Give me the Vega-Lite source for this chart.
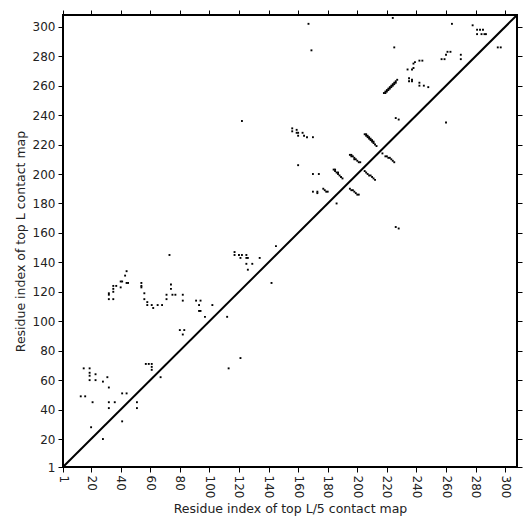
{
  "$schema": "https://vega.github.io/schema/vega-lite/v6.json",
  "width": 454,
  "height": 452,
  "autosize": {"type": "none"},
  "padding": {"left": 63, "top": 15, "right": 14, "bottom": 64},
  "config": {
    "view": {"stroke": "black", "strokeWidth": 2},
    "axis": {
      "domain": false,
      "grid": false,
      "tickColor": "black",
      "tickSize": 5,
      "tickWidth": 1,
      "labelFont": "DejaVu Sans",
      "labelFontSize": 12,
      "labelColor": "#222222",
      "titleFont": "DejaVu Sans",
      "titleFontSize": 12.5,
      "titleFontWeight": "normal",
      "titleColor": "#222222",
      "labelPadding": 3
    }
  },
  "datasets": {
    "diag": [{"r": 1}, {"r": 308}],
    "contacts": [
      {"i": 15, "j": 68}, {"i": 19, "j": 68}, {"i": 19, "j": 65}, {"i": 19, "j": 63}, {"i": 23, "j": 64}, {"i": 23, "j": 60}, {"i": 19, "j": 60}, {"i": 28, "j": 59}, {"i": 31, "j": 62}, {"i": 32, "j": 55},
      {"i": 13, "j": 49}, {"i": 16, "j": 49}, {"i": 21, "j": 45}, {"i": 41, "j": 51}, {"i": 44, "j": 51}, {"i": 32, "j": 45}, {"i": 36, "j": 45}, {"i": 32, "j": 41}, {"i": 51, "j": 45}, {"i": 51, "j": 41}, {"i": 41, "j": 32}, {"i": 20, "j": 28},
      {"i": 57, "j": 71}, {"i": 59, "j": 71}, {"i": 61, "j": 71}, {"i": 61, "j": 69}, {"i": 61, "j": 67},
      {"i": 80, "j": 94}, {"i": 83, "j": 94}, {"i": 82, "j": 91},
      {"i": 44, "j": 134}, {"i": 43, "j": 131}, {"i": 40, "j": 127}, {"i": 41, "j": 127}, {"i": 44, "j": 126}, {"i": 45, "j": 126}, {"i": 40, "j": 123}, {"i": 35, "j": 124}, {"i": 37, "j": 124}, {"i": 35, "j": 122}, {"i": 32, "j": 119}, {"i": 32, "j": 118}, {"i": 35, "j": 120}, {"i": 32, "j": 115}, {"i": 35, "j": 115},
      {"i": 54, "j": 126}, {"i": 54, "j": 124}, {"i": 54, "j": 123}, {"i": 56, "j": 119}, {"i": 56, "j": 115}, {"i": 58, "j": 113}, {"i": 58, "j": 111}, {"i": 61, "j": 111}, {"i": 65, "j": 111}, {"i": 68, "j": 111}, {"i": 62, "j": 109},
      {"i": 71, "j": 115}, {"i": 71, "j": 118}, {"i": 75, "j": 118}, {"i": 77, "j": 118}, {"i": 74, "j": 122}, {"i": 74, "j": 125}, {"i": 82, "j": 118}, {"i": 82, "j": 114},
      {"i": 91, "j": 114}, {"i": 94, "j": 114}, {"i": 93, "j": 111}, {"i": 93, "j": 107}, {"i": 94, "j": 107}, {"i": 97, "j": 103}, {"i": 102, "j": 111}, {"i": 112, "j": 103},
      {"i": 73, "j": 145},
      {"i": 117, "j": 147}, {"i": 117, "j": 145}, {"i": 120, "j": 145}, {"i": 122, "j": 145}, {"i": 125, "j": 145}, {"i": 121, "j": 143}, {"i": 125, "j": 143}, {"i": 126, "j": 143}, {"i": 134, "j": 143}, {"i": 125, "j": 139}, {"i": 129, "j": 139}, {"i": 126, "j": 135}, {"i": 145, "j": 151},
      {"i": 122, "j": 236},
      {"i": 156, "j": 231}, {"i": 156, "j": 229}, {"i": 159, "j": 230}, {"i": 159, "j": 228}, {"i": 160, "j": 226}, {"i": 160, "j": 228}, {"i": 163, "j": 228}, {"i": 164, "j": 226}, {"i": 166, "j": 225}, {"i": 170, "j": 225},
      {"i": 167, "j": 302}, {"i": 169, "j": 284},
      {"i": 160, "j": 206}, {"i": 170, "j": 200}, {"i": 174, "j": 200}, {"i": 170, "j": 188}, {"i": 173, "j": 188}, {"i": 173, "j": 187}, {"i": 177, "j": 190}, {"i": 178, "j": 189}, {"i": 179, "j": 188}, {"i": 180, "j": 188},
      {"i": 184, "j": 203}, {"i": 185, "j": 202}, {"i": 186, "j": 201}, {"i": 187, "j": 200}, {"i": 188, "j": 199}, {"i": 189, "j": 198}, {"i": 190, "j": 197}, {"i": 185, "j": 203}, {"i": 187, "j": 201},
      {"i": 195, "j": 213}, {"i": 196, "j": 212}, {"i": 197, "j": 212}, {"i": 198, "j": 211}, {"i": 199, "j": 210}, {"i": 200, "j": 209}, {"i": 201, "j": 208}, {"i": 202, "j": 208}, {"i": 196, "j": 213}, {"i": 198, "j": 210},
      {"i": 205, "j": 227}, {"i": 206, "j": 226}, {"i": 207, "j": 225}, {"i": 208, "j": 224}, {"i": 209, "j": 223}, {"i": 210, "j": 222}, {"i": 211, "j": 221}, {"i": 212, "j": 220}, {"i": 213, "j": 219}, {"i": 206, "j": 227}, {"i": 207, "j": 226}, {"i": 208, "j": 225}, {"i": 209, "j": 224}, {"i": 210, "j": 223}, {"i": 211, "j": 222},
      {"i": 218, "j": 255}, {"i": 219, "j": 256}, {"i": 220, "j": 257}, {"i": 221, "j": 258}, {"i": 222, "j": 259}, {"i": 223, "j": 260}, {"i": 224, "j": 261}, {"i": 225, "j": 262}, {"i": 226, "j": 263}, {"i": 227, "j": 264}, {"i": 219, "j": 255}, {"i": 220, "j": 256}, {"i": 221, "j": 257}, {"i": 222, "j": 258}, {"i": 223, "j": 259}, {"i": 224, "j": 260}, {"i": 225, "j": 261}, {"i": 226, "j": 262},
      {"i": 225, "j": 286}, {"i": 224, "j": 306}, {"i": 226, "j": 238}, {"i": 228, "j": 237},
      {"i": 234, "j": 271}, {"i": 237, "j": 271}, {"i": 238, "j": 272}, {"i": 238, "j": 275}, {"i": 239, "j": 276}, {"i": 242, "j": 277}, {"i": 244, "j": 277}, {"i": 235, "j": 265}, {"i": 237, "j": 264}, {"i": 235, "j": 263}, {"i": 237, "j": 263}, {"i": 242, "j": 262}, {"i": 242, "j": 260}, {"i": 245, "j": 260}, {"i": 248, "j": 259},
      {"i": 257, "j": 278}, {"i": 259, "j": 278}, {"i": 260, "j": 281}, {"i": 261, "j": 283}, {"i": 263, "j": 283}, {"i": 270, "j": 281}, {"i": 270, "j": 278}, {"i": 264, "j": 302}, {"i": 278, "j": 301}, {"i": 281, "j": 298}, {"i": 283, "j": 298}, {"i": 285, "j": 298}, {"i": 281, "j": 295}, {"i": 284, "j": 295}, {"i": 286, "j": 295}, {"i": 287, "j": 295}, {"i": 295, "j": 286}, {"i": 297, "j": 286},
      {"i": 28, "j": 20}, {"i": 67, "j": 62}, {"i": 113, "j": 68}, {"i": 121, "j": 75}, {"i": 142, "j": 126}, {"i": 186, "j": 180},
      {"i": 195, "j": 190}, {"i": 196, "j": 189}, {"i": 197, "j": 189}, {"i": 198, "j": 188}, {"i": 199, "j": 187}, {"i": 200, "j": 186}, {"i": 201, "j": 186},
      {"i": 205, "j": 202}, {"i": 206, "j": 201}, {"i": 207, "j": 200}, {"i": 208, "j": 199}, {"i": 209, "j": 199}, {"i": 210, "j": 198}, {"i": 211, "j": 197}, {"i": 212, "j": 196},
      {"i": 217, "j": 214}, {"i": 219, "j": 212}, {"i": 220, "j": 212}, {"i": 221, "j": 211}, {"i": 222, "j": 211}, {"i": 223, "j": 210}, {"i": 224, "j": 209}, {"i": 225, "j": 208},
      {"i": 226, "j": 164}, {"i": 228, "j": 163}, {"i": 260, "j": 235}
    ]
  },
  "layer": [
    {
      "data": {"name": "diag"},
      "mark": {"type": "line", "color": "black", "strokeWidth": 2, "clip": true},
      "encoding": {
        "x": {"field": "r", "type": "quantitative", "scale": {"domain": [1, 308], "nice": false, "zero": false},
              "axis": {"orient": "bottom", "values": [1, 20, 40, 60, 80, 100, 120, 140, 160, 180, 200, 220, 240, 260, 280, 300], "labelAngle": 90, "labelAlign": "left", "labelBaseline": "middle", "title": "Residue index of top L/5 contact map", "titlePadding": 5}},
        "y": {"field": "r", "type": "quantitative", "scale": {"domain": [1, 308], "nice": false, "zero": false},
              "axis": {"orient": "left", "values": [1, 20, 40, 60, 80, 100, 120, 140, 160, 180, 200, 220, 240, 260, 280, 300], "title": "Residue index of top L contact map", "titlePadding": 5}}
      }
    },
    {
      "data": {"name": "contacts"},
      "mark": {"type": "square", "size": 3.6, "color": "black", "opacity": 1, "filled": true},
      "encoding": {
        "x": {"field": "i", "type": "quantitative", "scale": {"domain": [1, 308], "nice": false, "zero": false},
              "axis": {"orient": "top", "values": [1, 20, 40, 60, 80, 100, 120, 140, 160, 180, 200, 220, 240, 260, 280, 300], "labels": false, "title": null}},
        "y": {"field": "j", "type": "quantitative", "scale": {"domain": [1, 308], "nice": false, "zero": false},
              "axis": {"orient": "right", "values": [1, 20, 40, 60, 80, 100, 120, 140, 160, 180, 200, 220, 240, 260, 280, 300], "labels": false, "title": null}}
      }
    }
  ],
  "resolve": {"axis": {"x": "independent", "y": "independent"}}
}
